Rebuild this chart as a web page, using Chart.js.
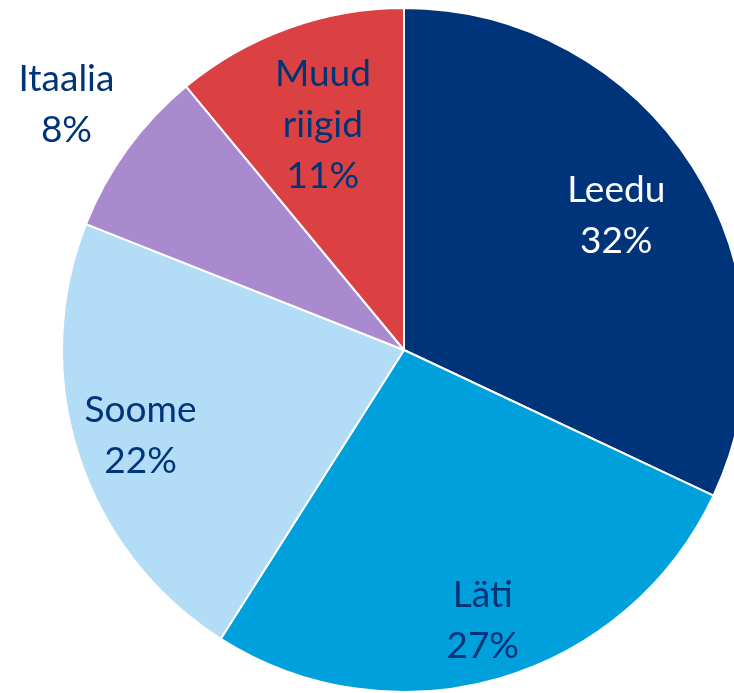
<!DOCTYPE html>
<html lang="et">
<head>
    <meta charset="UTF-8">
    <title>Riigid</title>
    <script src="https://cdn.jsdelivr.net/npm/chart.js"></script>
    <style>
        html, body { margin: 0; padding: 0; background: #fff; overflow: hidden; }
        #wrap { position: absolute; left: 0; top: 0; width: 808px; height: 700px; }
    </style>
</head>
<body>
    <div id="wrap"><canvas id="pieChart"></canvas></div>

    <script>
        // andmed
        const countries = ['Leedu', 'Läti', 'Soome', 'Itaalia', ['Muud', 'riigid']];
        const shares = [32, 27, 22, 8, 11];
        const sliceColors = ['#00347A', '#00A0DC', '#B3DDF7', '#A98ACE', '#DB4143'];

        // sildi kaugus keskpunktist (osa raadiusest) ja värv
        const labelRadius = [0.735, 0.825, 0.81, 1.22, 0.70];
        const labelColors = ['#ffffff', '#003478', '#003478', '#003478', '#003478'];

        // lihtne plugin siltide joonistamiseks
        const sliceLabels = {
            id: 'sliceLabels',
            afterDatasetsDraw(chart) {
                const ctx = chart.ctx;
                const meta = chart.getDatasetMeta(0);
                ctx.save();
                ctx.font = '37px Lato, "Open Sans", sans-serif';
                ctx.textAlign = 'center';
                ctx.textBaseline = 'middle';
                meta.data.forEach((arc, i) => {
                    const p = arc.getProps(['x', 'y', 'startAngle', 'endAngle', 'outerRadius'], true);
                    const mid = (p.startAngle + p.endAngle) / 2;
                    const r = p.outerRadius * labelRadius[i];
                    const cx = p.x + Math.cos(mid) * r;
                    const cy = p.y + Math.sin(mid) * r;
                    const name = [].concat(countries[i]);
                    const lines = name.concat(shares[i] + '%');
                    const lh = 51;
                    const top = cy - (lines.length - 1) * lh / 2;
                    ctx.fillStyle = labelColors[i];
                    lines.forEach((t, k) => ctx.fillText(t, cx, top + k * lh));
                });
                ctx.restore();
            }
        };

        new Chart(document.getElementById('pieChart'), {
            type: 'pie',
            data: {
                labels: countries,
                datasets: [{
                    data: shares,
                    backgroundColor: sliceColors,
                    borderColor: '#ffffff',
                    borderWidth: 2
                }]
            },
            options: {
                responsive: true,
                maintainAspectRatio: false,
                animation: false,
                layout: { padding: { top: 7, bottom: 7, left: 0, right: 0 } },
                plugins: {
                    legend: { display: false },
                    tooltip: { enabled: false }
                }
            },
            plugins: [sliceLabels]
        });
    </script>
</body>
</html>
